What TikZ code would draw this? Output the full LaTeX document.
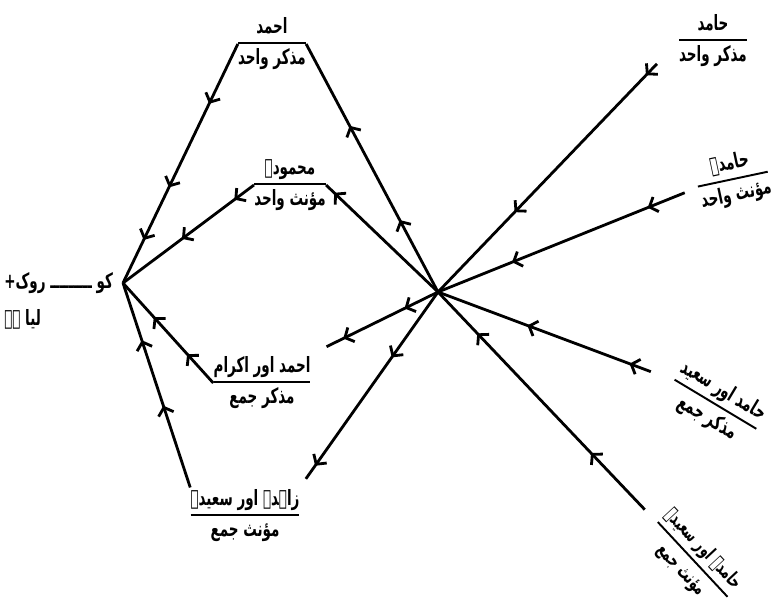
\documentclass[tikz,border=0pt]{standalone}
\usepackage{fontspec}
\newfontfamily\urdufont[Script=Arabic,FakeStretch=0.64]{DejaVu Sans}
\TeXXeTstate=1
\usetikzlibrary{arrows.meta,calc,decorations.markings}
\setlength{\arrayrulewidth}{1.1pt}
\newcommand{\urd}[1]{\beginR #1\endR}
\newcommand{\frc}[2]{\begin{tabular}{@{}c@{}}\urd{#1}\\[1pt]\hline\noalign{\vskip2pt}\urd{#2}\end{tabular}}

\begin{document}
\begin{tikzpicture}[x=0.02cm,y=-0.02cm,
    lbl/.style={font=\urdufont\bfseries\fontsize{12}{14}\selectfont, inner sep=0pt},
    ln/.style={line width=1.6pt},
    ar/.style={postaction={decorate,decoration={markings,
        mark=at position #1 with {\arrow{Straight Barb[length=4pt,width=9pt]}}}}}]
    \useasboundingbox (0,0) rectangle (779,606);

    \coordinate (hub) at (438,292);
    \coordinate (ko) at (123,283);

    \node[lbl, anchor=north west, align=left] (kotext) at (4,272)
        {\urd{کو ـــــــــ روک+}\\[7pt]\urd{لیا ہے}};

    % words on the right
    \node[lbl] (hamid) at (713,41) {\frc{حامد}{مذکر واحد}};
    \node[lbl, rotate=12] (hamida) at (733,180) {\frc{حامدہ}{مؤنث واحد}};
    \node[lbl, rotate=-31] (hamidsaeed) at (715,405) {\frc{حامد اور سعید}{مذکر جمع}};
    \node[lbl, font=\urdufont\bfseries\fontsize{11}{13}\selectfont, rotate=-47]
        (hamidasaeeda) at (692,560) {\frc{حامدہ اور سعیدہ}{مؤنث جمع}};

    % words on the left
    \node[lbl] (ahmad) at (272,44) {\frc{احمد}{مذکر واحد}};
    \node[lbl] (mahmuda) at (290,185) {\frc{محمودہ}{مؤنث واحد}};
    \node[lbl] (ahmadakram) at (262,383) {\frc{احمد اور اکرام}{مذکر جمع}};
    \node[lbl] (zahida) at (245,516) {\frc{زاہدہ اور سعیدہ}{مؤنث جمع}};

    \draw[ln, ar=0.05, ar=0.65] ($(hamid.west)!18pt!(hub)$) -- (hub);
    \draw[ln, ar=0.15, ar=0.7] ($(hamida.west)!8pt!(hub)$) -- (hub);
    \draw[ln, ar=0.1, ar=0.58] ($(hamidsaeed.west)!14pt!(hub)$) -- (hub);
    \draw[ln, ar=0.26, ar=0.81] ($(hamidasaeeda.west)!10pt!(hub)$) -- (hub);

    \draw[ln, ar=0.29, ar=0.67] (hub) -- (ahmad.east);
    \draw[ln, ar=0.93] (hub) -- (mahmuda.east);
    \draw[ln, ar=0.3, ar=0.85] (hub) -- ($(ahmadakram.north east)!10pt!(hub)$);
    \draw[ln, ar=0.35, ar=0.93] (hub) -- ($(zahida.north east)!6pt!(hub)$);

    \draw[ln, ar=0.25, ar=0.6, ar=0.82] (ahmad.west) -- (ko);
    \draw[ln, ar=0.15, ar=0.55] (mahmuda.west) -- (ko);
    \draw[ln, ar=0.29, ar=0.66] (ahmadakram.west) -- (ko);
    \draw[ln, ar=0.4, ar=0.72] (zahida.north west) -- (ko);
\end{tikzpicture}
\end{document}
